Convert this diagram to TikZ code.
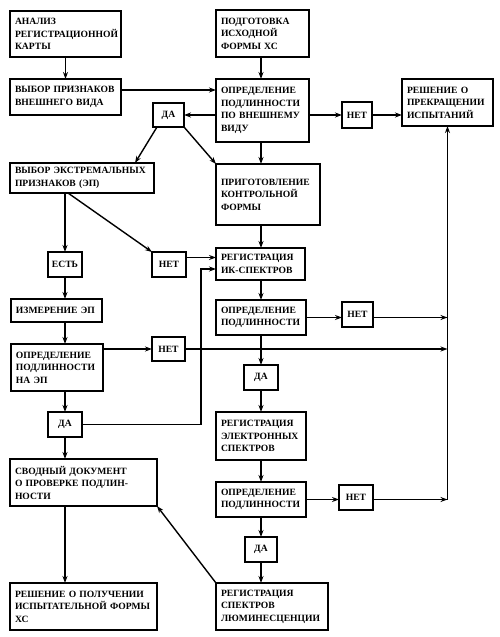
\documentclass[tikz,border=0pt]{standalone}
\usepackage{fontspec}
\setmainfont{Liberation Serif}
\usetikzlibrary{arrows.meta}
\newcommand\lab{\fontsize{9.6}{12.5}\selectfont\bfseries}
\begin{document}
\begin{tikzpicture}[x=1pt,y=-1pt,
  box/.style n args={2}{draw, line width=1.4pt, anchor=north west, align=left, inner xsep=5pt, inner ysep=2pt, outer sep=0pt, text width=#1, minimum height=#2, font=\lab},
  sbox/.style n args={2}{draw, line width=1.4pt, anchor=north west, inner sep=0pt, outer sep=0pt, minimum width=#1, minimum height=#2, font=\lab},
  arr/.style={line width=1.4pt, -{Stealth[length=7pt,width=5pt]}}]
\useasboundingbox (0,0) rectangle (500,637);
\fill[white] (0,0) rectangle (500,637);
% column coordinates
\coordinate (cx) at (261,0);
\coordinate (vx) at (201,0);
\coordinate (ex) at (135,0);
\coordinate (dx) at (68,0);
\coordinate (y90) at (0,90);
% boxes
\node[box={101pt}{46pt}] (a) at (10,11) {АНАЛИЗ\\РЕГИСТРАЦИОННОЙ\\КАРТЫ};
\node[box={101pt}{36pt}] (b) at (10,79) {ВЫБОР ПРИЗНАКОВ\\ВНЕШНЕГО ВИДА};
\node[box={83pt}{47pt}] (podg) at (216,10) {ПОДГОТОВКА\\ИСХОДНОЙ\\ФОРМЫ ХС};
\node[box={83pt}{63pt}] (opr) at (216,79) {ОПРЕДЕЛЕНИЕ\\ПОДЛИННОСТИ\\ПО ВНЕШНЕМУ\\ВИДУ};
\node[sbox={30pt}{26pt}] (net1) at (342,102) {НЕТ};
\node[box={81pt}{47pt}] (resh) at (402,79) {РЕШЕНИЕ О\\ПРЕКРАЩЕНИИ\\ИСПЫТАНИЙ};
\node[sbox={31pt}{24pt}] (da1) at (153,103) {ДА};
\node[box={134pt}{30pt}] (ep) at (10,163) {ВЫБОР ЭКСТРЕМАЛЬНЫХ\\ПРИЗНАКОВ (ЭП)};
\node[box={94pt}{61pt}] (prig) at (216,164) {ПРИГОТОВЛЕНИЕ\\КОНТРОЛЬНОЙ\\ФОРМЫ};
\node[sbox={34pt}{25pt}] (est) at (48,252) {ЕСТЬ};
\node[sbox={34pt}{25pt}] (net2) at (152,252) {НЕТ};
\node[box={79pt}{32pt}] (regik) at (216,248) {РЕГИСТРАЦИЯ\\ИК-СПЕКТРОВ};
\node[box={81pt}{23pt}] (izm) at (11,299) {ИЗМЕРЕНИЕ ЭП};
\node[box={80pt}{35pt}] (opr1) at (216,300) {ОПРЕДЕЛЕНИЕ\\ПОДЛИННОСТИ};
\node[sbox={31pt}{25pt}] (net4) at (342,302) {НЕТ};
\node[box={82pt}{47pt}] (oep) at (11,344) {ОПРЕДЕЛЕНИЕ\\ПОДЛИННОСТИ\\НА ЭП};
\node[sbox={33pt}{24pt}] (net3) at (152,337) {НЕТ};
\node[sbox={34pt}{25pt}] (da2) at (244,365) {ДА};
\node[sbox={34pt}{25pt}] (da3) at (48,412) {ДА};
\node[box={80pt}{48pt}] (regel) at (216,412) {РЕГИСТРАЦИЯ\\ЭЛЕКТРОННЫХ\\СПЕКТРОВ};
\node[box={137pt}{47pt}] (svod) at (10,459) {СВОДНЫЙ ДОКУМЕНТ\\О ПРОВЕРКЕ ПОДЛИН-\\НОСТИ};
\node[box={80pt}{35pt}] (opr2) at (216,482) {ОПРЕДЕЛЕНИЕ\\ПОДЛИННОСТИ};
\node[sbox={34pt}{25pt}] (net5) at (339,485) {НЕТ};
\node[sbox={32pt}{25pt}] (da4) at (245,537) {ДА};
\node[box={137pt}{47pt}] (rpol) at (10,583) {РЕШЕНИЕ О ПОЛУЧЕНИИ\\ИСПЫТАТЕЛЬНОЙ ФОРМЫ\\ХС};
\node[box={102pt}{47pt}] (reglum) at (216,583) {РЕГИСТРАЦИЯ\\СПЕКТРОВ\\ЛЮМИНЕСЦЕНЦИИ};
% connectors
\draw[arr] (a.south) -- (b.north);
\draw[arr] (b.east |- y90) -- (opr.west |- y90);
\draw[arr] (podg.south -| cx) -- (opr.north -| cx);
\draw[arr] (opr.west |- da1.east) -- (da1.east);
\draw[arr] (opr.east |- net1.west) -- (net1.west);
\draw[arr] (net1.east) -- (net1.east -| resh.west);
\draw[arr] ([xshift=4pt]da1.south west) -- (ep.north -| ex);
\draw[arr] (da1.south east) -- (prig.north west);
\draw[arr] (opr.south -| cx) -- (prig.north -| cx);
\draw[arr] (ep.south -| est.north) -- (est.north);
\draw[arr] (ep.south -| dx) -- (net2.north west);
\draw[arr] ([yshift=7pt]net2.east) -- ([yshift=7pt]net2.east -| regik.west);
\draw[arr] (prig.south -| cx) -- (regik.north -| cx);
\draw[arr] (est.south) -- (est.south |- izm.north);
\draw[arr] (est.south |- izm.south) -- (est.south |- oep.north);
\draw[arr] (oep.east |- net3.west) -- (net3.west);
\draw[arr] (net3.east) -- (net3.east -| resh.south);
\draw[arr] (est.south |- oep.south) -- (da3.north);
\draw[arr] (da3.east) -- (da3.east -| vx) -- ([yshift=-5pt]regik.west -| vx) -- ([yshift=-5pt]regik.west);
\draw[arr] (da3.south) -- (da3.south |- svod.north);
\draw[arr] (da3.south |- svod.south) -- (da3.south |- rpol.north);
\draw[arr] (reglum.north west) -- (svod.south east);
\draw[arr] (regik.south -| cx) -- (opr1.north -| cx);
\draw[arr] (opr1.east) -- (net4.west |- opr1.east);
\draw[arr] (net4.east |- opr1.east) -- (opr1.east -| resh.south);
\draw[arr] (opr1.south -| cx) -- (da2.north -| cx);
\draw[arr] (da2.south -| cx) -- (regel.north -| cx);
\draw[arr] (regel.south -| cx) -- (opr2.north -| cx);
\draw[arr] (opr2.east) -- (opr2.east -| net5.west);
\draw[arr] (net5.east |- opr2.east) -- (opr2.east -| resh.south);
\draw[arr] (opr2.east -| resh.south) -- (resh.south);
\draw[arr] (opr2.south -| cx) -- (da4.north -| cx);
\draw[arr] (da4.south -| cx) -- (reglum.north -| cx);
\end{tikzpicture}
\end{document}
